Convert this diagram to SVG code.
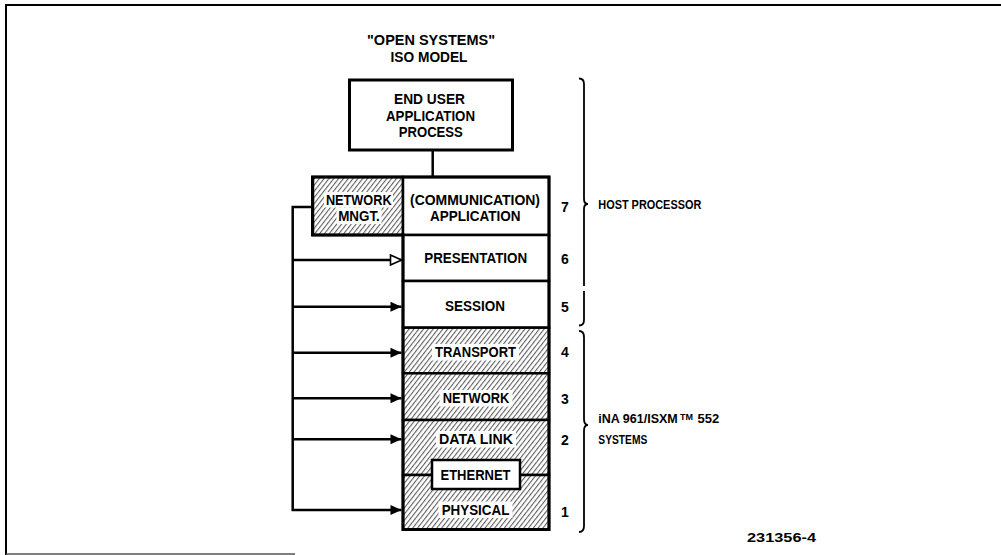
<svg xmlns="http://www.w3.org/2000/svg" width="1001" height="555" viewBox="0 0 1001 555">
<style>
text{font-family:"Liberation Sans",Arial,sans-serif;font-weight:bold;fill:#000;}
.t{font-size:14.5px;text-anchor:middle;}
.ttl{font-size:14px;text-anchor:middle;}
.num{font-size:14px;text-anchor:middle;}
.lbl{font-size:13.5px;}
.box{fill:#fff;stroke:#000;stroke-width:2.5;}
.hb{fill:url(#hatch);stroke:#000;stroke-width:2.5;}
.clr{fill:#fff;stroke:none;}
.ln{fill:none;stroke:#000;stroke-width:2.5;}
.br{fill:none;stroke:#000;stroke-width:1.8;}
</style>
<defs>
<pattern id="hatch" patternUnits="userSpaceOnUse" width="3.8" height="3.8" patternTransform="rotate(38)">
<rect width="3.8" height="3.8" fill="#fff"/>
<line x1="0.6" y1="0" x2="0.6" y2="3.8" stroke="#222" stroke-width="0.8"/>
</pattern>
<marker id="solid" markerUnits="userSpaceOnUse" markerWidth="12" markerHeight="11" viewBox="0 0 12 11" refX="11.5" refY="5.5" orient="auto">
<path d="M0.5,0.5 L11.5,5.5 L0.5,10.5 Z" fill="#000"/>
</marker>
<marker id="open" markerUnits="userSpaceOnUse" markerWidth="14" markerHeight="13" viewBox="0 0 14 13" refX="12.5" refY="6.5" orient="auto">
<path d="M1.5,1.5 L12.5,6.5 L1.5,11.5 Z" fill="#fff" stroke="#000" stroke-width="1.6"/>
</marker>
</defs>
<rect width="1001" height="555" fill="#fff"/>
<g id="frame">
<path d="M6,555 V5 H1001" fill="none" stroke="#000" stroke-width="2"/>
<path d="M6,554 H295" fill="none" stroke="#555" stroke-width="1.3"/>
</g>
<g id="title">
<text class="ttl" x="431" y="45" textLength="128" lengthAdjust="spacingAndGlyphs">"OPEN SYSTEMS"</text>
<text class="ttl" x="429" y="61.7" textLength="77" lengthAdjust="spacingAndGlyphs">ISO MODEL</text>
</g>
<g id="connectors">
<path class="ln" d="M432.7,150 V177" stroke-width="3"/>
<path class="ln" d="M312,207 H292.7 V510 H401.5" marker-end="url(#solid)"/>
<path class="ln" d="M292.7,260 H401.5" marker-end="url(#open)"/>
<path class="ln" d="M292.7,306.7 H401.5" marker-end="url(#solid)"/>
<path class="ln" d="M292.7,352.7 H401.5" marker-end="url(#solid)"/>
<path class="ln" d="M292.7,398.3 H401.5" marker-end="url(#solid)"/>
<path class="ln" d="M292.7,439.3 H401.5" marker-end="url(#solid)"/>
</g>
<g id="end-user">
<rect x="349.5" y="80" width="163" height="70" fill="#fff" stroke="#000" stroke-width="3"/>
<text class="t" x="429.5" y="104" textLength="71" lengthAdjust="spacingAndGlyphs">END USER</text>
<text class="t" x="430.5" y="120.7" textLength="89" lengthAdjust="spacingAndGlyphs">APPLICATION</text>
<text class="t" x="430.8" y="137.3" textLength="64" lengthAdjust="spacingAndGlyphs">PROCESS</text>
</g>
<g id="network-mngt">
<rect class="hb" x="313" y="177" width="90" height="58"/>
<rect class="clr" x="324" y="192" width="69" height="15.5"/>
<rect class="clr" x="336.5" y="207.5" width="45" height="16.5"/>
<text class="t" x="358.8" y="205" textLength="65.7" lengthAdjust="spacingAndGlyphs">NETWORK</text>
<text class="t" x="359" y="220.7" textLength="41.7" lengthAdjust="spacingAndGlyphs">MNGT.</text>
</g>
<g id="layer7">
<rect class="box" x="403" y="177" width="146" height="58"/>
<text class="t" x="475" y="205" textLength="130" lengthAdjust="spacingAndGlyphs">(COMMUNICATION)</text>
<text class="t" x="475.3" y="220.7" textLength="90.7" lengthAdjust="spacingAndGlyphs">APPLICATION</text>
<text class="num" x="565" y="212">7</text>
</g>
<g id="layer6">
<rect class="box" x="403" y="235" width="146" height="46"/>
<text class="t" x="475.7" y="263.3" textLength="103" lengthAdjust="spacingAndGlyphs">PRESENTATION</text>
<text class="num" x="565" y="264">6</text>
</g>
<g id="layer5">
<rect class="box" x="403" y="281" width="146" height="46.7"/>
<text class="t" x="475" y="310.7" textLength="60" lengthAdjust="spacingAndGlyphs">SESSION</text>
<text class="num" x="565" y="311.5">5</text>
</g>
<g id="layer4">
<rect class="hb" x="403" y="327.7" width="146" height="45.6"/>
<rect class="clr" x="432" y="344" width="87" height="16.5"/>
<text class="t" x="475.5" y="357.3" textLength="81" lengthAdjust="spacingAndGlyphs">TRANSPORT</text>
<text class="num" x="565" y="357">4</text>
</g>
<g id="layer3">
<rect class="hb" x="403" y="373.3" width="146" height="46.7"/>
<rect class="clr" x="439.5" y="390" width="73" height="16.5"/>
<text class="t" x="476" y="403.3" textLength="66.7" lengthAdjust="spacingAndGlyphs">NETWORK</text>
<text class="num" x="565" y="403.5">3</text>
</g>
<g id="layer2">
<rect class="hb" x="403" y="420" width="146" height="55"/>
<rect class="clr" x="436" y="431" width="80" height="16.5"/>
<text class="t" x="476" y="444.3" textLength="74" lengthAdjust="spacingAndGlyphs">DATA LINK</text>
<text class="num" x="565" y="444.5">2</text>
</g>
<g id="layer1">
<rect class="hb" x="403" y="475" width="146" height="54.5"/>
<rect class="clr" x="438.5" y="501.5" width="74" height="16.5"/>
<text class="t" x="475.5" y="515" textLength="67.7" lengthAdjust="spacingAndGlyphs">PHYSICAL</text>
<text class="num" x="565" y="516.5">1</text>
</g>
<path id="stack-outline" d="M312.5,177 H549 V529.5 H403 V235 H312.5 Z" fill="none" stroke="#000" stroke-width="3"/>
<g id="ethernet">
<rect class="box" x="432" y="460" width="88" height="29"/>
<text class="t" x="475.5" y="480" textLength="70" lengthAdjust="spacingAndGlyphs">ETHERNET</text>
</g>
<g id="host-processor">
<path class="br" d="M579,78.5 Q584,78.5 584,84 V199 Q584,204 588,204 Q584,204 584,209 V286 M584,291 V320 Q584,325.5 579,325.5"/>
<text class="lbl" x="598.3" y="209.3" textLength="103" lengthAdjust="spacingAndGlyphs">HOST PROCESSOR</text>
</g>
<g id="ina-systems">
<path class="br" d="M579,331 Q584,331 584,337 V419 Q584,425 588,425 Q584,425 584,431 V526 Q584,532 579,532"/>
<text x="598.3" y="423.3" style="font-size:12.5px">iNA 961/ISXM<tspan x="680" dy="-3.8" style="font-size:9px">TM</tspan><tspan x="697.5" dy="3.8" style="font-size:13px">552</tspan></text>
<text class="lbl" x="598.3" y="444" textLength="49" lengthAdjust="spacingAndGlyphs">SYSTEMS</text>
</g>
<text id="fig-no" class="lbl" x="747" y="541.7" textLength="69" lengthAdjust="spacingAndGlyphs">231356-4</text>
</svg>
